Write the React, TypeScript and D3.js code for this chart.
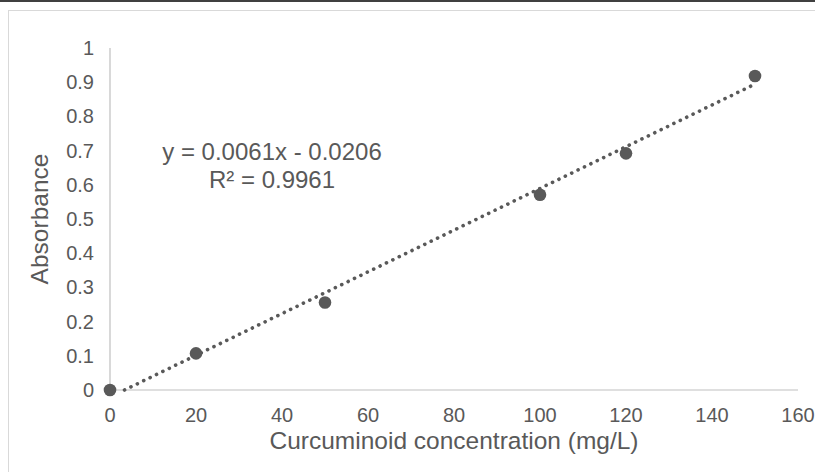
import * as d3 from 'd3'

// calibration data
const concentrations = [0, 20, 50, 100, 120, 150]
const absorbances = [0, 0.107, 0.256, 0.571, 0.692, 0.918]
const xTicks = [0, 20, 40, 60, 80, 100, 120, 140, 160]
const yTicks = [0, 0.1, 0.2, 0.3, 0.4, 0.5, 0.6, 0.7, 0.8, 0.9, 1]
const slope = 0.0061
const intercept = -0.0206
const equationLines = ['y = 0.0061x - 0.0206', 'R² = 0.9961']

const W = 815
const H = 472
const textColor = '#595959'
const font = 'Arial, "Liberation Sans", sans-serif'

export default function App() {
    const x = d3.scaleLinear().domain([0, 160]).range([110, 798])
    const y = d3.scaleLinear().domain([0, 1]).range([390, 48])

    // trendline, clipped where it crosses the x axis
    const xStart = -intercept / slope
    const xEnd = d3.max(concentrations) as number
    const trend = d3
        .line<number>()
        .x((d) => x(d))
        .y((d) => y(slope * d + intercept))([xStart, xEnd])

    const points = concentrations.map((c, i) => ({ c, a: absorbances[i] }))

    return (
        <svg
            width={W}
            height={H}
            style={{ position: 'absolute', left: 0, top: 0, background: '#fff' }}
            fontFamily={font}
        >
            <rect x={0} y={0} width={W} height={2} fill="#404040" />
            <rect x={8.5} y={10.5} width={W} height={H} fill="#fff" stroke="#d9d9d9" />

            {/* axes */}
            <line x1={x(0)} x2={x(0)} y1={y(1)} y2={y(0)} stroke="#bfbfbf" strokeWidth={1.2} />
            <line x1={x(0)} x2={x(160)} y1={y(0)} y2={y(0)} stroke="#bfbfbf" strokeWidth={1.2} />

            {yTicks.map((t) => (
                <text
                    key={'y' + t}
                    x={94}
                    y={y(t)}
                    dy="0.35em"
                    textAnchor="end"
                    fontSize={20}
                    fill={textColor}
                >
                    {d3.format('~g')(t)}
                </text>
            ))}
            {xTicks.map((t) => (
                <text
                    key={'x' + t}
                    x={x(t)}
                    y={y(0) + 32}
                    textAnchor="middle"
                    fontSize={20}
                    fill={textColor}
                >
                    {t}
                </text>
            ))}

            <text
                x={454}
                y={449}
                textAnchor="middle"
                fontSize={24.5}
                fill={textColor}
            >
                Curcuminoid concentration (mg/L)
            </text>
            <text
                transform={`translate(48, ${(y(0) + y(1)) / 2}) rotate(-90)`}
                textAnchor="middle"
                fontSize={24.5}
                fill={textColor}
            >
                Absorbance
            </text>

            {/* trendline */}
            <path
                d={trend ?? ''}
                fill="none"
                stroke={textColor}
                strokeWidth={3.6}
                strokeLinecap="round"
                strokeDasharray="0.1 7"
            />

            {points.map((p) => (
                <circle key={p.c} cx={x(p.c)} cy={y(p.a)} r={6.3} fill={textColor} />
            ))}

            {equationLines.map((l, i) => (
                <text
                    key={l}
                    x={272}
                    y={160 + i * 28}
                    textAnchor="middle"
                    fontSize={24}
                    fill={textColor}
                >
                    {l}
                </text>
            ))}
        </svg>
    )
}
